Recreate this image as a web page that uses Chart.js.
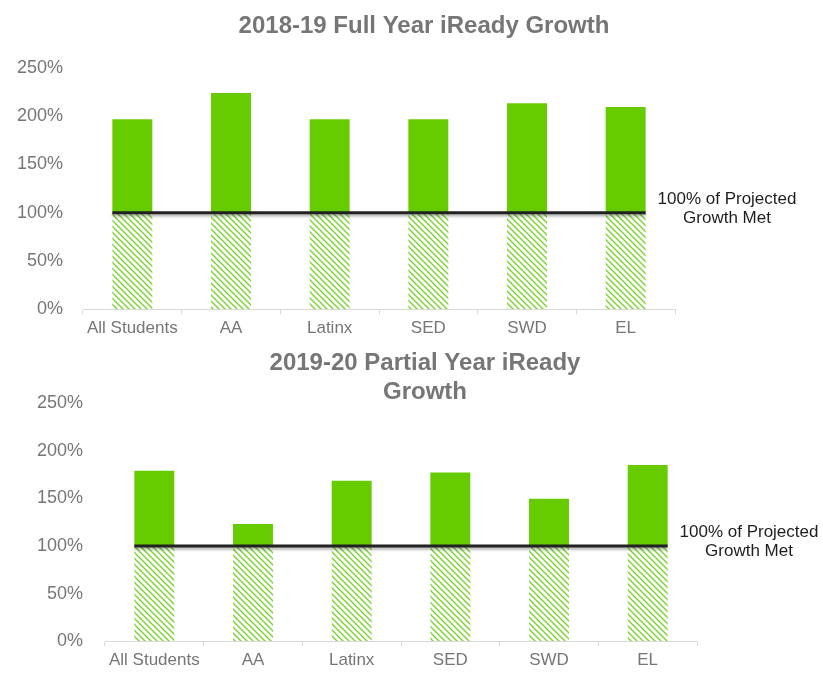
<!DOCTYPE html>
<html>
<head>
<meta charset="utf-8">
<script src="https://cdn.jsdelivr.net/npm/chart.js@4.4.1/dist/chart.umd.min.js"></script>
<style>
  html, body { margin: 0; padding: 0; background: #ffffff; }
  .box { position: absolute; left: 0; width: 823px; }
  #b1 { top: 0; height: 340px; }
  #b2 { top: 340px; height: 334px; }
</style>
</head>
<body>
<div class="box" id="b1"><canvas id="c1"></canvas></div>
<div class="box" id="b2"><canvas id="c2"></canvas></div>
<script>
// ---- data ----
const categories = ['All Students', 'AA', 'Latinx', 'SED', 'SWD', 'EL'];
const growth1819 = [197, 224, 197, 197, 213.5, 209.5];
const growth1920 = [179, 123, 168.5, 177, 149.5, 185];
const projectedMet = [100, 100, 100, 100, 100, 100];
const yTickValues = [0, 50, 100, 150, 200, 250];
const title1819 = ['2018-19 Full Year iReady Growth'];
const title1920 = ['2019-20 Partial Year iReady', 'Growth'];
const targetLabel = ['100% of Projected', 'Growth Met'];

Chart.defaults.font.family = "'Liberation Sans', Arial, sans-serif";

function hatchPattern() {
  const s = 6;
  const c = document.createElement('canvas');
  c.width = s; c.height = s;
  const g = c.getContext('2d');
  g.strokeStyle = '#7ad22e';
  g.lineWidth = 1.4;
  g.beginPath();
  g.moveTo(0, 0); g.lineTo(s, s);
  g.moveTo(-1, s - 1); g.lineTo(1, s + 1);
  g.moveTo(s - 1, -1); g.lineTo(s + 1, 1);
  g.stroke();
  return g.createPattern(c, 'repeat');
}

const overlayPlugin = {
  id: 'overlay',
  afterDatasetsDraw(chart, args, opts) {
    const ctx = chart.ctx;
    const y = chart.scales.y;
    const meta = chart.getDatasetMeta(1);
    const first = meta.data[0], last = meta.data[meta.data.length - 1];
    const x0 = first.x - first.width / 2;
    const x1 = last.x + last.width / 2;
    const yp = y.getPixelForValue(projectedMet[0]);
    ctx.save();
    ctx.shadowColor = 'rgba(0,0,0,0.35)';
    ctx.shadowBlur = 3;
    ctx.shadowOffsetY = 2;
    ctx.strokeStyle = '#222222';
    ctx.lineWidth = 3;
    ctx.beginPath();
    ctx.moveTo(x0, yp);
    ctx.lineTo(x1, yp);
    ctx.stroke();
    ctx.restore();

    ctx.save();
    ctx.fillStyle = '#1e1e1e';
    ctx.font = "17px 'Liberation Sans', Arial, sans-serif";
    ctx.textAlign = 'center';
    ctx.textBaseline = 'alphabetic';
    const lx = chart.chartArea.right + 52;
    ctx.fillText(targetLabel[0], lx, yp - 8.5);
    ctx.fillText(targetLabel[1], lx, yp + 10.5);
    ctx.restore();

    ctx.save();
    ctx.fillStyle = '#767676';
    ctx.font = "bold 24px 'Liberation Sans', Arial, sans-serif";
    ctx.textAlign = 'center';
    ctx.textBaseline = 'alphabetic';
    opts.lines.forEach((t, i) => ctx.fillText(t, opts.x, opts.y + i * 29));
    ctx.restore();
  }
};

function makeChart(id, growth, cfg) {
  const pattern = hatchPattern();
  return new Chart(document.getElementById(id), {
    type: 'bar',
    data: {
      labels: categories,
      datasets: [
        {
          data: projectedMet.map(p => [0, p]),
          backgroundColor: pattern,
          borderWidth: 0,
          grouped: false,
          barPercentage: 0.405,
          categoryPercentage: 1.0
        },
        {
          data: growth.map((v, i) => [projectedMet[i], v]),
          backgroundColor: '#66cc00',
          borderWidth: 0,
          grouped: false,
          barPercentage: 0.405,
          categoryPercentage: 1.0
        }
      ]
    },
    options: {
      responsive: true,
      maintainAspectRatio: false,
      devicePixelRatio: 1,
      animation: false,
      layout: { padding: { top: cfg.padTop, right: cfg.padRight, left: 0, bottom: 0 } },
      plugins: {
        legend: { display: false },
        tooltip: { enabled: false },
        title: { display: false },
        overlay: { lines: cfg.title, x: cfg.titleX, y: cfg.titleY }
      },
      scales: {
        x: {
          offset: true,
          grid: { display: true, drawOnChartArea: false, drawTicks: true, tickLength: 5, color: '#d9d9d9', offset: true },
          border: { display: true, color: '#d9d9d9', width: 1 },
          ticks: { color: '#767676', font: { size: 17 }, padding: 4, maxRotation: 0, autoSkip: false },
          afterFit: s => { s.height = 30; }
        },
        y: {
          min: yTickValues[0],
          max: yTickValues[yTickValues.length - 1],
          grid: { display: false, drawTicks: false },
          border: { display: false },
          afterBuildTicks: s => { s.ticks = yTickValues.map(v => ({ value: v })); },
          ticks: { color: '#767676', font: { size: 18 }, padding: cfg.yPad, callback: v => v + '%' },
          afterFit: s => { s.width = cfg.yWidth; }
        }
      }
    },
    plugins: [overlayPlugin]
  });
}

makeChart('c1', growth1819, { padTop: 68, padRight: 148, yWidth: 83, yPad: 20, title: title1819, titleX: 424, titleY: 33 });
makeChart('c2', growth1920, { padTop: 63, padRight: 126, yWidth: 105, yPad: 22, title: title1920, titleX: 425, titleY: 30 });
</script>
</body>
</html>
